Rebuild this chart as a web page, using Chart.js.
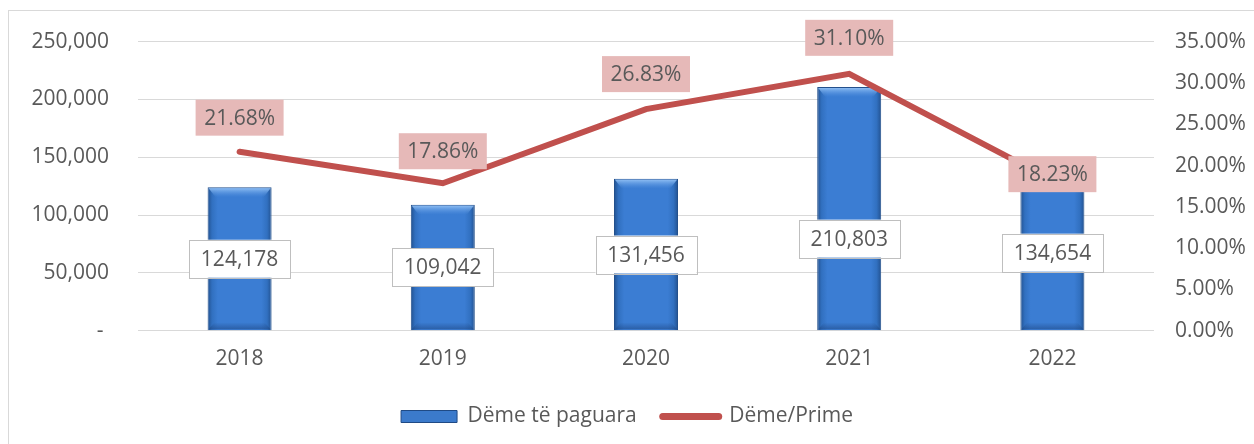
<!DOCTYPE html>
<html>
<head>
<meta charset="utf-8">
<script src="https://cdn.jsdelivr.net/npm/chart.js@4/dist/chart.umd.min.js"></script>
<style>
  html, body { margin: 0; padding: 0; background: #fff; overflow: hidden; }
  #wrap { position: relative; width: 1254px; height: 444px; }
  #frame { position: absolute; left: 8px; top: 10px; width: 1260px; height: 460px; border: 1px solid #d9d9d9; box-sizing: border-box; }
  canvas { position: absolute; left: 0; top: 0; }
</style>
</head>
<body>
<div id="wrap">
  <div id="frame"></div>
  <canvas id="chart" width="1254" height="444"></canvas>
</div>
<script>
const years = ["2018", "2019", "2020", "2021", "2022"];
const paidClaims = [124178, 109042, 131456, 210803, 134654];
const claimRatio = [21.68, 17.86, 26.83, 31.10, 18.23];
const barLabelShift = [0, 0, 0, 30, 0];
const lineLabelShift = [-34, -32, -35, -36, -6];

const textColor = "#595959";
const fontFamily = "'Open Sans', sans-serif";
const fontSize = 21;

const barFill = (c) => {
  const chart = c.chart;
  const xs = chart.scales.x;
  if (!chart.chartArea || !xs) return "#3b7dd3";
  const cx = xs.getPixelForValue(c.dataIndex);
  const w = (chart.chartArea.width / years.length) * 0.315;
  const g = chart.ctx.createLinearGradient(cx - w / 2, 0, cx + w / 2, 0);
  g.addColorStop(0, "#22518f");
  g.addColorStop(0.07, "#3170c0");
  g.addColorStop(0.16, "#3b7dd3");
  g.addColorStop(0.84, "#3b7dd3");
  g.addColorStop(0.93, "#3170c0");
  g.addColorStop(1, "#22518f");
  return g;
};

// light bevel on top of each bar, like the Office style
const bevelPlugin = {
  id: "bevelPlugin",
  afterDatasetDraw(chart, args) {
    if (args.index !== 0) return;
    const ctx = chart.ctx;
    ctx.save();
    args.meta.data.forEach(bar => {
      const l = bar.x - bar.width / 2 + 1, r = bar.x + bar.width / 2 - 1, t = bar.y + 1, b = bar.base - 1;
      const g = ctx.createLinearGradient(0, t, 0, t + 9);
      g.addColorStop(0, "#8cbcf2");
      g.addColorStop(1, "rgba(90,150,225,0)");
      ctx.fillStyle = g;
      ctx.beginPath();
      ctx.moveTo(l, t); ctx.lineTo(r, t); ctx.lineTo(r - 7, t + 9); ctx.lineTo(l + 7, t + 9);
      ctx.closePath();
      ctx.fill();
      const g2 = ctx.createLinearGradient(0, b - 7, 0, b);
      g2.addColorStop(0, "rgba(30,70,130,0)");
      g2.addColorStop(1, "rgba(30,70,130,0.55)");
      ctx.fillStyle = g2;
      ctx.beginPath();
      ctx.moveTo(l + 6, b - 7); ctx.lineTo(r - 6, b - 7); ctx.lineTo(r, b); ctx.lineTo(l, b);
      ctx.closePath();
      ctx.fill();
    });
    ctx.restore();
  }
};

const labelPlugin = {
  id: "labelPlugin",
  afterDatasetsDraw(chart) {
    const ctx = chart.ctx;
    ctx.save();
    ctx.font = fontSize + "px " + fontFamily;
    ctx.textAlign = "center";
    ctx.textBaseline = "middle";

    const barMeta = chart.getDatasetMeta(0);
    barMeta.data.forEach((bar, i) => {
      const txt = paidClaims[i].toLocaleString("en-US");
      const cy = (bar.y + bar.base) / 2 + barLabelShift[i];
      const w = 101, h = 38;
      ctx.fillStyle = "#ffffff";
      ctx.fillRect(bar.x - w / 2, cy - h / 2, w, h);
      ctx.strokeStyle = "#bfbfbf";
      ctx.lineWidth = 1;
      ctx.strokeRect(Math.round(bar.x - w / 2) + 0.5, Math.round(cy - h / 2) + 0.5, w, h);
      ctx.fillStyle = textColor;
      ctx.fillText(txt, bar.x, cy + 1);
    });

    const lineMeta = chart.getDatasetMeta(1);
    lineMeta.data.forEach((pt, i) => {
      const txt = claimRatio[i].toFixed(2) + "%";
      const cy = pt.y + lineLabelShift[i];
      const w = 88, h = 36;
      ctx.fillStyle = "#e6b9b8";
      ctx.fillRect(pt.x - w / 2, cy - h / 2, w, h);
      ctx.fillStyle = textColor;
      ctx.fillText(txt, pt.x, cy + 1);
    });
    ctx.restore();
  }
};

new Chart(document.getElementById("chart"), {
  type: "bar",
  data: {
    labels: years,
    datasets: [
      {
        type: "bar",
        label: "Dëme të paguara",
        data: paidClaims,
        yAxisID: "y",
        order: 1,
        backgroundColor: barFill,
        borderColor: "#23508c",
        borderWidth: 1,
        barPercentage: 0.315,
        categoryPercentage: 1,
        pointStyle: "rect"
      },
      {
        type: "line",
        label: "Dëme/Prime",
        data: claimRatio,
        yAxisID: "y1",
        order: 0,
        borderColor: "#c0504d",
        backgroundColor: "#c0504d",
        borderWidth: 6,
        borderCapStyle: "round",
        borderJoinStyle: "miter",
        pointRadius: 0,
        tension: 0,
        pointStyle: "line"
      }
    ]
  },
  options: {
    responsive: false,
    animation: false,
    layout: { padding: { left: 0, right: 0, top: 40, bottom: 7 } },
    plugins: {
      tooltip: { enabled: false },
      legend: {
        position: "bottom",
        labels: {
          color: textColor,
          font: { family: fontFamily, size: fontSize },
          usePointStyle: true,
          pointStyleWidth: 56,
          boxHeight: 12,
          padding: 26,
          sort: (a, b) => a.datasetIndex - b.datasetIndex,
          generateLabels(chart) {
            const items = Chart.defaults.plugins.legend.labels.generateLabels(chart);
            items.forEach(it => {
              if (it.datasetIndex === 0) {
                it.fillStyle = "#3b7acb";
                it.strokeStyle = "#1f4a85";
                it.lineWidth = 1;
              } else {
                it.strokeStyle = "#c0504d";
                it.lineWidth = 7;
                it.lineCap = "round";
              }
            });
            return items;
          }
        }
      }
    },
    scales: {
      x: {
        grid: { display: false },
        border: { display: false },
        ticks: { color: textColor, font: { family: fontFamily, size: fontSize }, padding: 8 }
      },
      y: {
        position: "left",
        min: 0,
        max: 250000,
        afterFit: s => { s.width = 138; },
        grid: { color: "#d9d9d9", lineWidth: 1, drawTicks: false },
        border: { display: false },
        ticks: {
          stepSize: 50000,
          padding: 29,
          color: textColor,
          font: { family: fontFamily, size: fontSize },
          callback: v => v === 0 ? "- " : v.toLocaleString("en-US")
        }
      },
      y1: {
        position: "right",
        min: 0,
        max: 35,
        afterFit: s => { s.width = 100; },
        grid: { display: false, drawTicks: false },
        border: { display: false },
        ticks: {
          stepSize: 5,
          padding: 21,
          color: textColor,
          font: { family: fontFamily, size: fontSize },
          callback: v => v.toFixed(2) + "%"
        }
      }
    }
  },
  plugins: [bevelPlugin, labelPlugin]
});
</script>
</body>
</html>
